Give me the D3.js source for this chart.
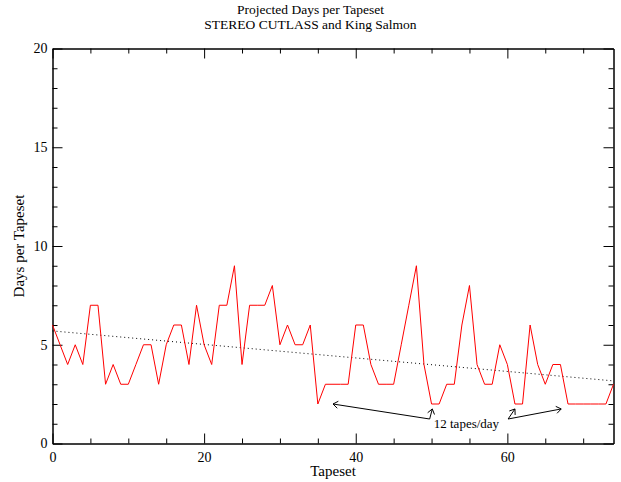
<!DOCTYPE html>
<html>
<head>
<meta charset="utf-8">
<script src="https://cdn.jsdelivr.net/npm/d3@7"></script>
<style>
  body { margin: 0; background: #fff; }
  svg text { font-family: "Liberation Serif", "Times New Roman", serif; fill: #000; }
</style>
</head>
<body>
<div id="chart"></div>
<script>
// days per tapeset, one value per tapeset 0..74
const tapesets = d3.range(0, 75);
const days = [
  6, 5, 4, 5, 4, 7, 7, 3, 4, 3,
  3, 4, 5, 5, 3, 5, 6, 6, 4, 7,
  5, 4, 7, 7, 9, 4, 7, 7, 7, 8,
  5, 6, 5, 5, 6, 2, 3, 3, 3, 3,
  6, 6, 4, 3, 3, 3, 5, 7, 9, 4,
  2, 2, 3, 3, 6, 8, 4, 3, 3, 5,
  4, 2, 2, 6, 4, 3, 4, 4, 2, 2,
  2, 2, 2, 2, 3
];
// dotted trend line end points (tapeset, days)
const trendX = [0, 74];
const trendY = [5.7, 3.17];

const xMajor = [0, 20, 40, 60];
const yMajor = [0, 5, 10, 15, 20];

// "12 tapes/day" annotation: arrows as [fromX, fromY, toX, toY] in data units
const noteText = "12 tapes/day";
const noteAt = [54.6, 0.76];
const arrows = [
  [49.75, 1.24, 37.0, 2.0],
  [49.75, 1.24, 50.1, 1.75],
  [60.1, 1.24, 61.0, 1.75],
  [60.1, 1.24, 67.1, 1.75]
];

const width = 621, height = 482;
const plotLeft = 52.5, plotRight = 613.5, plotTop = 48.5, plotBottom = 443.5;

const svg = d3.select("#chart").append("svg")
  .attr("width", width)
  .attr("height", height);

const x = d3.scaleLinear().domain([0, 74]).range([plotLeft, plotRight]);
const y = d3.scaleLinear().domain([0, 20]).range([plotBottom, plotTop]);

// title
svg.append("text").attr("x", 310.5).attr("y", 14)
  .attr("text-anchor", "middle").attr("font-size", "13.5px")
  .text("Projected Days per Tapeset");
svg.append("text").attr("x", 310.5).attr("y", 28.5)
  .attr("text-anchor", "middle").attr("font-size", "13.5px")
  .text("STEREO CUTLASS and King Salmon");

// axes: ticks point inwards on all four sides
const xMinor = d3.range(0, 75, 5).filter(v => !xMajor.includes(v));
const yMinor = d3.range(0, 21, 1).filter(v => !yMajor.includes(v));

function styleAxis(g) {
  g.select(".domain").attr("stroke", "#000");
  g.selectAll(".tick line").attr("stroke", "#000");
  g.selectAll(".tick text").attr("font-size", "14px").attr("font-family", "Liberation Serif, serif");
}

svg.append("g").attr("transform", `translate(0,${plotBottom})`)
  .call(d3.axisBottom(x).tickValues(xMajor).tickSizeInner(-10).tickSizeOuter(0).tickPadding(9))
  .call(styleAxis);
svg.append("g").attr("transform", `translate(0,${plotBottom})`)
  .call(d3.axisBottom(x).tickValues(xMinor).tickSizeInner(-5).tickSizeOuter(0).tickFormat(""))
  .call(styleAxis);
svg.append("g").attr("transform", `translate(0,${plotTop})`)
  .call(d3.axisTop(x).tickValues(xMajor).tickSizeInner(-10).tickSizeOuter(0).tickFormat(""))
  .call(styleAxis);
svg.append("g").attr("transform", `translate(0,${plotTop})`)
  .call(d3.axisTop(x).tickValues(xMinor).tickSizeInner(-5).tickSizeOuter(0).tickFormat(""))
  .call(styleAxis);

svg.append("g").attr("transform", `translate(${plotLeft},0)`)
  .call(d3.axisLeft(y).tickValues(yMajor).tickSizeInner(-10).tickSizeOuter(0).tickPadding(5))
  .call(styleAxis);
svg.append("g").attr("transform", `translate(${plotLeft},0)`)
  .call(d3.axisLeft(y).tickValues(yMinor).tickSizeInner(-5).tickSizeOuter(0).tickFormat(""))
  .call(styleAxis);
svg.append("g").attr("transform", `translate(${plotRight},0)`)
  .call(d3.axisRight(y).tickValues(yMajor).tickSizeInner(-10).tickSizeOuter(0).tickFormat(""))
  .call(styleAxis);
svg.append("g").attr("transform", `translate(${plotRight},0)`)
  .call(d3.axisRight(y).tickValues(yMinor).tickSizeInner(-5).tickSizeOuter(0).tickFormat(""))
  .call(styleAxis);

// axis titles
svg.append("text").attr("x", (plotLeft + plotRight) / 2).attr("y", 476)
  .attr("text-anchor", "middle").attr("font-size", "15px")
  .text("Tapeset");
svg.append("text")
  .attr("transform", `translate(24,${(plotTop + plotBottom) / 2}) rotate(-90)`)
  .attr("text-anchor", "middle").attr("font-size", "15px")
  .text("Days per Tapeset");

// trend line
svg.append("line")
  .attr("x1", x(trendX[0])).attr("y1", y(trendY[0]))
  .attr("x2", x(trendX[1])).attr("y2", y(trendY[1]))
  .attr("stroke", "#000").attr("stroke-width", 1)
  .attr("stroke-dasharray", "1,3");

// data line
const line = d3.line()
  .x((d, i) => x(tapesets[i]))
  .y(d => y(d));
svg.append("path")
  .datum(days)
  .attr("d", line)
  .attr("fill", "none")
  .attr("stroke", "#ff0000")
  .attr("stroke-width", 1);

// annotation
const head = 6;
arrows.forEach(a => {
  const x1 = x(a[0]), y1 = y(a[1]), x2 = x(a[2]), y2 = y(a[3]);
  const ang = Math.atan2(y2 - y1, x2 - x1);
  svg.append("line")
    .attr("x1", x1).attr("y1", y1).attr("x2", x2).attr("y2", y2)
    .attr("stroke", "#000").attr("stroke-width", 1);
  [ang + Math.PI * 0.8, ang - Math.PI * 0.8].forEach(t => {
    svg.append("line")
      .attr("x1", x2).attr("y1", y2)
      .attr("x2", x2 + head * Math.cos(t)).attr("y2", y2 + head * Math.sin(t))
      .attr("stroke", "#000").attr("stroke-width", 1);
  });
});
svg.append("text").attr("x", x(noteAt[0])).attr("y", y(noteAt[1]))
  .attr("text-anchor", "middle").attr("font-size", "13px")
  .text(noteText);
</script>
</body>
</html>
